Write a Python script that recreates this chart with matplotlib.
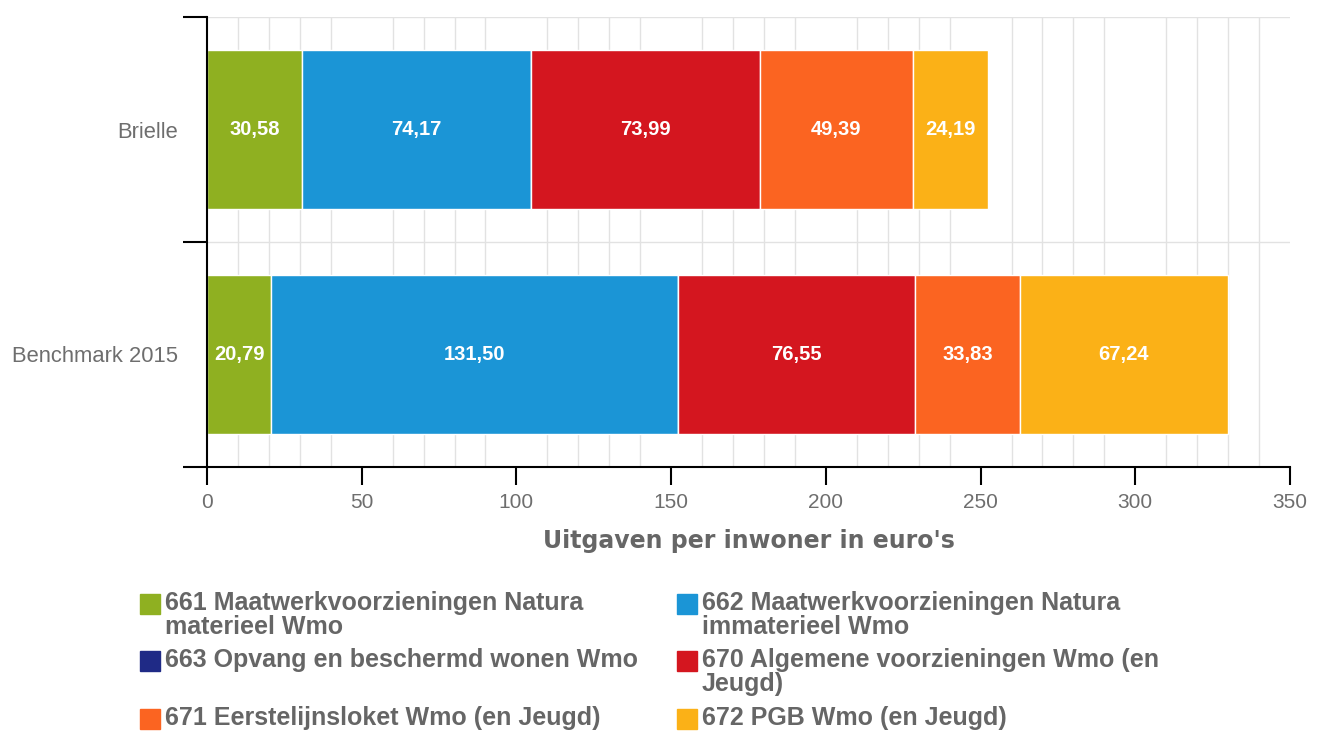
import numpy as np
from matplotlib import pyplot as plt
from matplotlib.patches import Rectangle

# gemeente en benchmark, uitgaven per inwoner (euro)
categories = ["Brielle", "Benchmark 2015"]
series_names = [
    "661 Maatwerkvoorzieningen Natura\nmaterieel Wmo",
    "662 Maatwerkvoorzieningen Natura\nimmaterieel Wmo",
    "663 Opvang en beschermd wonen Wmo",
    "670 Algemene voorzieningen Wmo (en\nJeugd)",
    "671 Eerstelijnsloket Wmo (en Jeugd)",
    "672 PGB Wmo (en Jeugd)",
]
brielle = [30.58, 74.17, 0.0, 73.99, 49.39, 24.19]
benchmark = [20.79, 131.50, 0.0, 76.55, 33.83, 67.24]
colors = ["#8fb021", "#1b95d6", "#1f2a86", "#d4161f", "#fb6421", "#fbb117"]

values = np.array([brielle, benchmark])

W, H = 1322, 731
fig = plt.figure(figsize=(W / 100, H / 100), dpi=100)
ax = fig.add_axes([207 / W, 1 - 467 / H, (1290 - 207) / W, (467 - 17) / H])

ypos = np.arange(len(categories))
left = np.zeros(len(categories))
for k, name in enumerate(series_names):
    ax.barh(ypos, values[:, k], left=left, height=0.71, color=colors[k],
            edgecolor="white", linewidth=1, zorder=3)
    for j in range(len(categories)):
        v = values[j, k]
        if v > 0:
            ax.text(left[j] + v / 2, ypos[j], f"{v:.2f}".replace(".", ","),
                    ha="center", va="center", color="white", fontsize=14.5,
                    fontweight="bold", family="Liberation Sans", zorder=4)
    left += values[:, k]

ax.set_xlim(0, 350)
ax.set_ylim(len(categories) - 0.5, -0.5)

# x-as: labels per 50, raster per 10
ax.set_xticks(np.arange(0, 351, 50))
ax.set_xticks(np.arange(0, 351, 10), minor=True)
ax.grid(True, which="minor", axis="x", color="#e2e2e2", linewidth=1, zorder=0)
ax.tick_params(axis="x", which="major", length=13, width=1.5, color="black",
               labelsize=15, labelcolor="#6e6e6e", pad=6)
ax.tick_params(axis="x", which="minor", length=0)
for lab in ax.get_xticklabels():
    lab.set_family("Liberation Sans")

# y-as: streepjes op de grenzen, labels in het midden
ax.set_yticks([-0.5, 0.5, 1.5])
ax.set_yticklabels([])
ax.set_yticks(ypos, minor=True)
ax.set_yticklabels(categories, minor=True)
ax.grid(True, which="major", axis="y", color="#e2e2e2", linewidth=1, zorder=0)
ax.tick_params(axis="y", which="major", length=17, width=1.5, color="black")
ax.tick_params(axis="y", which="minor", length=0, labelsize=15.8,
               labelcolor="#6e6e6e", pad=21)
for lab in ax.get_yticklabels(minor=True):
    lab.set_family("Liberation Sans")

for side in ["top", "right"]:
    ax.spines[side].set_visible(False)
for side in ["left", "bottom"]:
    ax.spines[side].set_linewidth(1.5)
    ax.spines[side].set_zorder(5)

ax.set_xlabel("Uitgaven per inwoner in euro's", fontsize=17, fontweight="bold",
              color="#666666", family="DejaVu Sans", labelpad=12)

# legenda in twee kolommen, rijen even hoog
col_x = [140, 677]
row_top = [591, 648, 706]
for k, name in enumerate(series_names):
    cx = col_x[k % 2]
    ty = row_top[k // 2]
    fig.add_artist(Rectangle((cx / W, 1 - (ty + 23) / H), 20 / W, 20 / H,
                             transform=fig.transFigure, color=colors[k]))
    fig.text((cx + 25) / W, 1 - ty / H, name, ha="left", va="top",
             fontsize=18, fontweight="bold", color="#666666",
             family="Liberation Sans", linespacing=1.0)

fig.savefig("out.png", dpi=100)
